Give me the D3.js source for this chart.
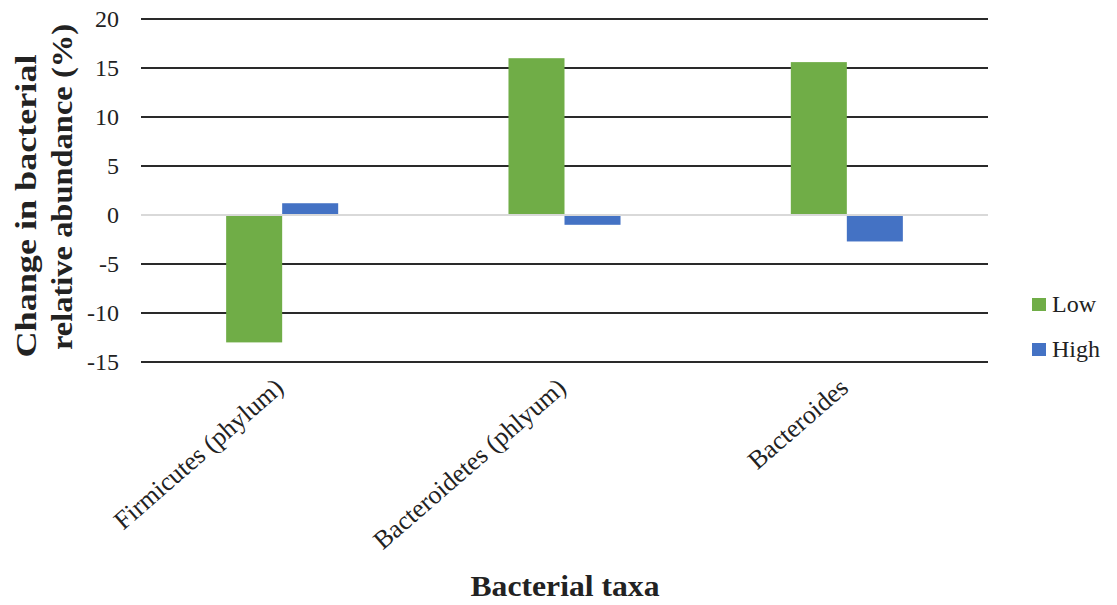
<!DOCTYPE html>
<html><head><meta charset="utf-8">
<script src="https://cdn.jsdelivr.net/npm/d3@7"></script>
<style>body{margin:0;background:#fff;} svg{display:block;} text{font-family:"Liberation Serif","Times New Roman",serif;fill:#222;}</style>
</head><body>
<svg id="chart" width="1117" height="605"></svg>
<script>
const categories = ["Firmicutes (phylum)", "Bacteroidetes (phlyum)", "Bacteroides"];
const seriesNames = ["Low", "High"];
const lowValues = [-13.0, 16.0, 15.6];
const highValues = [1.2, -1.0, -2.7];
const yTicks = [-15, -10, -5, 0, 5, 10, 15, 20];
const colors = {Low: "#70AD47", High: "#4472C4"};

const svg = d3.select("#chart");
const margin = {left: 141, right: 129, top: 19, bottom: 243};
const W = 1117, H = 605;
const x0 = d3.scaleBand().domain(categories).range([margin.left, W - margin.right]).paddingInner(0).paddingOuter(0);
const x1 = d3.scaleBand().domain(seriesNames).range([0, x0.bandwidth()]).paddingInner(0).paddingOuter(1.52);
const y = d3.scaleLinear().domain([-15, 20]).range([H - margin.bottom, margin.top]);

// gridlines
svg.append("g").selectAll("line").data(yTicks.filter(d => d !== 0)).join("line")
  .attr("x1", margin.left).attr("x2", W - margin.right)
  .attr("y1", d => y(d)).attr("y2", d => y(d))
  .attr("stroke", "#2a2a2a").attr("stroke-width", 2);

// y tick labels
svg.append("g").selectAll("text").data(yTicks).join("text")
  .attr("x", 119).attr("y", d => y(d)).attr("dy", "0.33em")
  .attr("text-anchor", "end").attr("font-size", 24)
  .text(d => d);

// bars
const data = categories.map((c, i) => ({cat: c, vals: [{s: "Low", v: lowValues[i]}, {s: "High", v: highValues[i]}]}));
const g = svg.append("g");
data.forEach(d => {
  g.selectAll(null).data(d.vals).join("rect")
    .attr("x", v => x0(d.cat) + x1(v.s))
    .attr("width", x1.bandwidth())
    .attr("y", v => Math.min(y(v.v), y(0)))
    .attr("height", v => Math.abs(y(v.v) - y(0)))
    .attr("fill", v => colors[v.s]);
});

// zero line
svg.append("line").attr("x1", margin.left).attr("x2", W - margin.right)
  .attr("y1", y(0)).attr("y2", y(0)).attr("stroke", "#d9d9d9").attr("stroke-width", 2);

// x labels
svg.append("g").selectAll("text").data(categories).join("text")
  .attr("transform", d => `translate(${x0(d) + x0.bandwidth() / 2 + 3},${390}) rotate(-41)`)
  .attr("text-anchor", "end").attr("font-size", 26)
  .text(d => d);

// axis titles
svg.append("text").attr("x", 565).attr("y", 596).attr("text-anchor", "middle")
  .attr("font-size", 30).attr("font-weight", "bold")
  .attr("textLength", 189).attr("lengthAdjust", "spacingAndGlyphs")
  .text("Bacterial taxa");
const yt = svg.append("text").attr("transform", "rotate(-90)")
  .attr("text-anchor", "middle").attr("font-size", 30).attr("font-weight", "bold");
yt.append("tspan").attr("x", -206).attr("y", 36).attr("textLength", 303).attr("lengthAdjust", "spacingAndGlyphs").text("Change in bacterial");
yt.append("tspan").attr("x", -187).attr("y", 72).attr("textLength", 326).attr("lengthAdjust", "spacingAndGlyphs").text("relative abundance (%)");

// legend
const leg = svg.append("g").selectAll("g").data(seriesNames).join("g")
  .attr("transform", (d, i) => `translate(1032,${298 + i * 45})`);
leg.append("rect").attr("width", 14).attr("height", 13).attr("fill", d => colors[d]);
leg.append("text").attr("x", 20).attr("y", 14)
  .attr("font-size", 24).text(d => d);
</script>
</body></html>
